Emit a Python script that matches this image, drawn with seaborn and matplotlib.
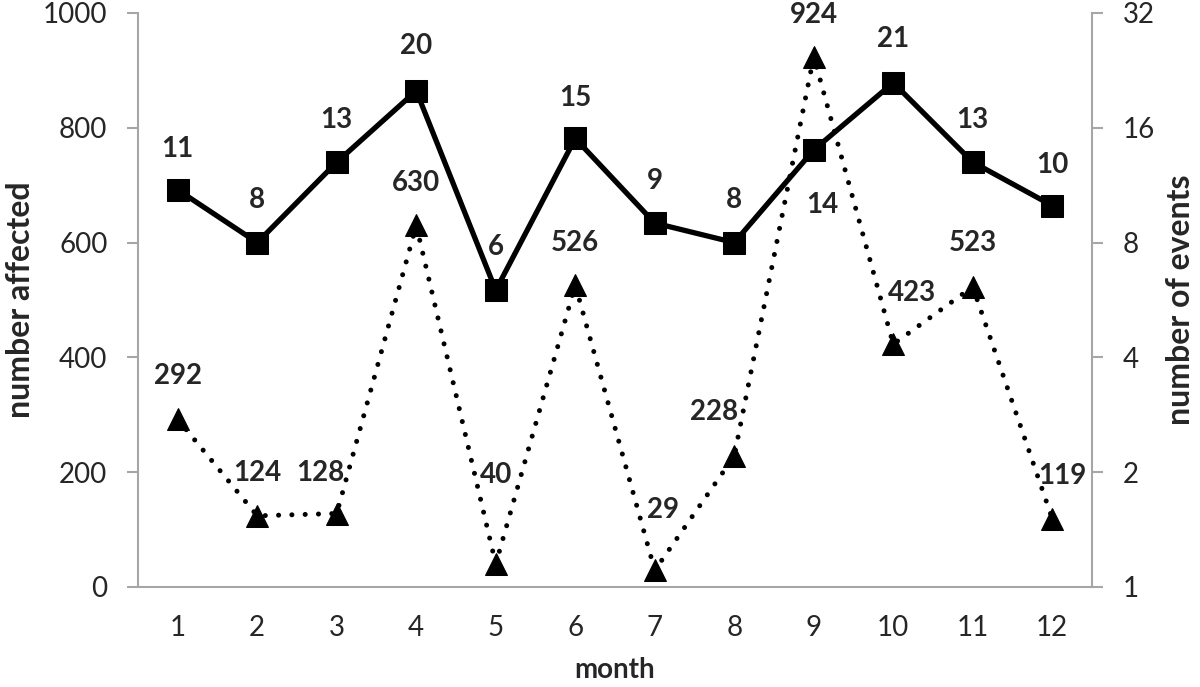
import numpy as np
import pandas as pd
import matplotlib
matplotlib.use('Agg')
import matplotlib.pyplot as plt
from matplotlib.ticker import FixedLocator, ScalarFormatter, NullFormatter
import seaborn as sns

# data
months = [1, 2, 3, 4, 5, 6, 7, 8, 9, 10, 11, 12]
affected = [292, 124, 128, 630, 40, 526, 29, 228, 924, 423, 523, 119]
events = [11, 8, 13, 20, 6, 15, 9, 8, 14, 21, 13, 10]
left_ticks = [0, 200, 400, 600, 800, 1000]
right_ticks = [1, 2, 4, 8, 16, 32]

# label offsets in pixels (dx, dy)
aff_offsets = [(0, 43), (0, 43), (-16, 41), (0, 42), (0, 89), (0, 42),
               (8, 60), (-20, 44), (0, 42), (19, 51), (0, 44), (10, 43)]
evt_offsets = [(0, 41), (0, 43), (0, 42), (0, 45), (0, 43), (0, 40),
               (0, 42), (0, 43), (9, -55), (0, 44), (0, 42), (0, 41)]

sns.set_style('white')
plt.rcParams['font.family'] = ['Lato', 'DejaVu Sans']

grey = '#a6a6a6'
fs = 20

fig = plt.figure(figsize=(12, 6.87), dpi=100)
ax = fig.add_axes([0.115, 0.1456, 0.795, 0.8355])
ax2 = ax.twinx()

df = pd.DataFrame({'month': months, 'affected': affected, 'events': events})

sns.lineplot(data=df, x='month', y='affected', ax=ax, color='black',
             marker='^', markersize=16, markeredgecolor='black',
             linewidth=3.6, dashes=False)
ax.lines[0].set_linestyle((0, (0.01, 2.65)))
ax.lines[0].set_dash_capstyle('round')

sns.lineplot(data=df, x='month', y='events', ax=ax2, color='black',
             marker='s', markersize=16, markeredgecolor='black',
             linewidth=3.8)

ax.set_xlim(0.5, 12.5)
ax.set_ylim(0, 1000)
ax.set_yticks(left_ticks)
ax2.set_yscale('log', base=2)
ax2.set_ylim(1, 32)
ax2.yaxis.set_major_locator(FixedLocator(right_ticks))
ax2.yaxis.set_major_formatter(ScalarFormatter())
ax2.yaxis.set_minor_formatter(NullFormatter())
ax2.yaxis.set_minor_locator(FixedLocator([]))

ax.set_xticks(months)
ax.set_xticks(np.arange(0.5, 13, 1), minor=True)
ax.tick_params(axis='x', which='major', length=0, pad=20, labelsize=fs)
ax.tick_params(axis='x', which='minor', length=8, width=1.5, color=grey, direction='out')
ax.tick_params(axis='y', length=8, width=1.5, color=grey, pad=14, labelsize=fs, left=True)
ax2.tick_params(axis='y', length=8, width=1.5, color=grey, pad=14, labelsize=fs, right=True)

for a in (ax, ax2):
    a.spines['top'].set_visible(False)
    for s in ('left', 'right', 'bottom'):
        a.spines[s].set_color(grey)
        a.spines[s].set_linewidth(1.5)
ax.spines['right'].set_visible(False)
ax2.spines['left'].set_visible(False)
ax2.spines['bottom'].set_visible(False)

ax.set_xlabel('month', fontsize=20, fontweight='bold', labelpad=12)
ax.set_ylabel('number affected', fontsize=23, fontweight='bold', labelpad=6)
ax2.set_ylabel('number of events', fontsize=23, fontweight='bold', labelpad=8)

for m, v, (dx, dy) in zip(months, affected, aff_offsets):
    ax.annotate(str(v), (m, v), xytext=(dx, dy), textcoords='offset pixels',
                ha='center', va='center', fontsize=fs, fontweight='bold')
for m, v, (dx, dy) in zip(months, events, evt_offsets):
    ax2.annotate(str(v), (m, v), xytext=(dx, dy), textcoords='offset pixels',
                 ha='center', va='center', fontsize=fs, fontweight='bold')

fig.savefig('out.png', dpi=100)
